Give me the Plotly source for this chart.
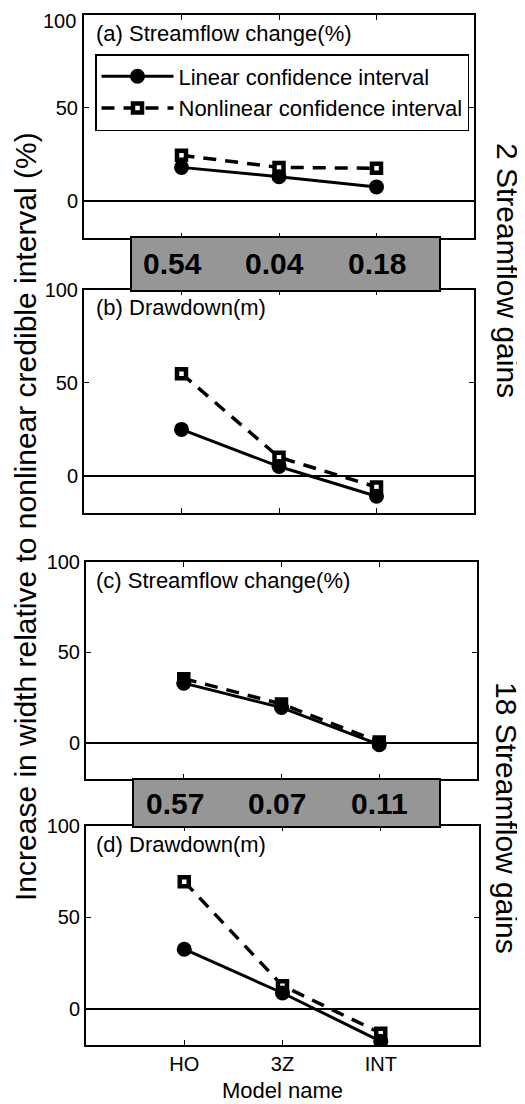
import plotly.graph_objects as go

# ---------------- data ----------------
models = ["HO", "3Z", "INT"]

lin_a = [18, 13, 7.5]
non_a = [24.5, 18, 17.5]
lin_b = [25, 5, -11]
non_b = [55, 10, -6]
lin_c = [33, 19.5, -1]
non_c = [35.5, 21.5, 0.5]
lin_d = [32.5, 8.5, -18]
non_d = [69.5, 12.5, -13.5]

gain_vals_2 = ["0.54", "0.04", "0.18"]
gain_vals_18 = ["0.57", "0.07", "0.11"]

panel_titles = ["(a) Streamflow change(%)", "(b) Drawdown(m)",
                "(c) Streamflow change(%)", "(d) Drawdown(m)"]
series_names = ["Linear confidence interval", "Nonlinear confidence interval"]
y_ticks = [0, 50, 100]
y_title = "Increase in width relative to nonlinear credible interval (%)"
x_title = "Model name"
group_labels = ["2 Streamflow gains", "18 Streamflow gains"]

# ---------------- layout helpers ----------------
OFF = 8                      # page body margin in the browser
W, H = 525 - OFF, 1104 - OFF
FONT = "Liberation Sans, Arial, Helvetica, sans-serif"


def px(xp):
    return (xp - OFF) / W


def py(yp):
    return 1 - (yp - OFF) / H


# panel pixel boxes in window coordinates: (left, right, top, bottom)
panels = [(84, 474, 15, 238), (84, 474, 290, 513),
          (86, 477, 562, 779), (86, 479, 826, 1045)]

xpos = list(range(1, len(models) + 1))

lin_all = [lin_a, lin_b, lin_c, lin_d]
non_all = [non_a, non_b, non_c, non_d]

fig = go.Figure()

for i in range(4):
    sfx = "" if i == 0 else str(i + 1)
    xa, ya = "x" + sfx, "y" + sfx
    # nonlinear first (drawn under)
    fig.add_trace(go.Scatter(
        x=xpos, y=non_all[i], mode="lines+markers", name=series_names[1],
        line=dict(color="black", width=3.5, dash="13px,9px"),
        marker=dict(symbol="square", size=9, color="white",
                    line=dict(color="black", width=4.5)),
        xaxis=xa, yaxis=ya, showlegend=(i == 0), legendrank=2))
    fig.add_trace(go.Scatter(
        x=xpos, y=lin_all[i], mode="lines+markers", name=series_names[0],
        line=dict(color="black", width=3),
        marker=dict(symbol="circle", size=15, color="black"),
        xaxis=xa, yaxis=ya, showlegend=(i == 0), legendrank=1))

layout = dict(
    width=W, height=H,
    margin=dict(l=0, r=0, t=0, b=0, autoexpand=False),
    paper_bgcolor="white", plot_bgcolor="white",
    font=dict(family=FONT, color="black", size=20),
    legend=dict(x=px(95), y=py(54), xanchor="left", yanchor="top",
                bgcolor="white", bordercolor="black", borderwidth=1.5,
                font=dict(size=22), itemwidth=72, tracegroupgap=0),
)

for i, (l, r, t, b) in enumerate(panels):
    sfx = "" if i == 0 else str(i + 1)
    # top panel: the "100" label is written as an annotation to keep it inside the page
    ttext = [str(v) if (i > 0 or v != max(y_ticks)) else "" for v in y_ticks]
    layout["xaxis" + sfx] = dict(
        domain=[px(l), px(r)], range=[0, 4], tickvals=xpos, ticktext=models,
        showticklabels=(i == 3), showgrid=False, zeroline=False,
        showline=True, linecolor="black", linewidth=2, mirror="ticks",
        ticks="inside", ticklen=5, tickcolor="black", tickwidth=1,
        tickfont=dict(size=20), anchor="y" + sfx, automargin=False,
        ticklabeloverflow="allow",
    )
    layout["yaxis" + sfx] = dict(
        domain=[py(b), py(t)], range=[-20, 100], tickvals=y_ticks, ticktext=ttext,
        showgrid=False, zeroline=True, zerolinecolor="black", zerolinewidth=2,
        showline=True, linecolor="black", linewidth=2, mirror="ticks",
        ticks="inside", ticklen=5, tickcolor="black", tickwidth=1,
        tickfont=dict(size=20), anchor="x" + sfx, automargin=False,
        ticklabeloverflow="allow",
    )

fig.update_layout(**layout)

# "100" label of the top panel
fig.add_annotation(text=str(max(y_ticks)), xref="paper", yref="paper",
                   x=px(78), y=py(8), xanchor="right", yanchor="top",
                   showarrow=False, font=dict(size=20))

# x axis title (bottom panel)
fig.add_annotation(text=x_title, xref="x4", yref="paper", x=2, y=py(1090),
                   xanchor="center", yanchor="middle", showarrow=False,
                   font=dict(size=22))

# panel titles
for i, (l, r, t, b) in enumerate(panels):
    fig.add_annotation(text=panel_titles[i], xref="paper", yref="paper",
                       x=px(94), y=py(t + 18), xanchor="left", yanchor="middle",
                       showarrow=False, font=dict(size=22))

# gray boxes with values
boxes = [((131, 440, 237, 291), "x", gain_vals_2), ((133, 440, 779, 827), "x3", gain_vals_18)]
for (x0, x1, y0, y1), xr, vals in boxes:
    fig.add_shape(type="rect", xref="paper", yref="paper",
                  x0=px(x0), x1=px(x1), y0=py(y1), y1=py(y0),
                  fillcolor="rgb(150,150,150)", line=dict(color="black", width=2),
                  layer="above")
    for j, v in enumerate(vals):
        fig.add_annotation(text="<b>" + v + "</b>", xref=xr, yref="paper",
                           x=xpos[j], y=py((y0 + y1) / 2),
                           xshift=[-9, -5, 0][j], yanchor="middle",
                           showarrow=False, font=dict(size=30))

# big y title
fig.add_annotation(text=y_title, xref="paper", yref="paper",
                   x=px(25), y=py(517), textangle=-90, showarrow=False,
                   xanchor="center", yanchor="middle", font=dict(size=30))

# right group labels
for lbl, yc in zip(group_labels, [270, 818]):
    fig.add_annotation(text=lbl, xref="paper", yref="paper",
                       x=px(507), y=py(yc), textangle=90, showarrow=False,
                       xanchor="center", yanchor="middle", font=dict(size=30))

fig.write_html("out.html")
